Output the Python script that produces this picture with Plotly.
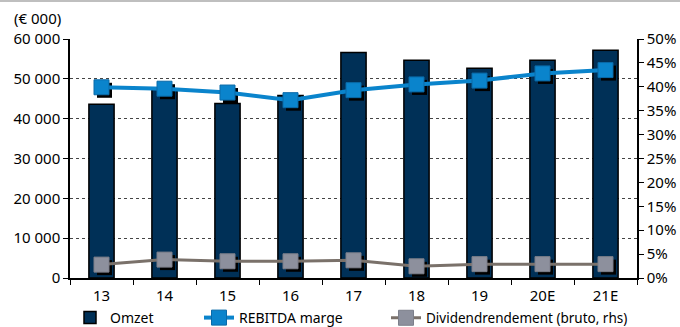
import plotly.graph_objects as go

categories = ["13", "14", "15", "16", "17", "18", "19", "20E", "21E"]
omzet = [43600, 47400, 43800, 45800, 56600, 54650, 52640, 54650, 57200]
rebitda_marge = [39.9, 39.6, 38.8, 37.2, 39.3, 40.5, 41.3, 42.8, 43.5]
dividend = [2.8, 3.85, 3.5, 3.5, 3.7, 2.45, 2.9, 2.9, 2.9]

W, H = 680, 327
L, R, T, B = 70, 43, 39, 49
pw, ph = W - L - R, H - T - B
n = len(categories)
px_per_cat = pw / n
sx, sy = 3, 3  # shadow offset in px
dx = sx / px_per_cat
dy_pct = sy / ph * 50

NAVY = "#003057"
BLUE = "#0A84CC"
GREY_M = "#8D909D"
GREY_L = "#7A716A"
FONT = "Noto Sans"

fig = go.Figure()
fig.add_trace(go.Bar(x=categories, y=omzet, name="Omzet", marker=dict(color=NAVY, line=dict(color="black", width=1.5)),
                     xaxis="x", yaxis="y", legend="legend"))
# marker shadows
fig.add_trace(go.Scatter(x=categories, y=rebitda_marge, mode="markers", showlegend=False, hoverinfo="skip",
                         marker=dict(symbol="square", size=15, color="black"), xaxis="x2", yaxis="y2"))
fig.add_trace(go.Scatter(x=categories, y=dividend, mode="markers", showlegend=False, hoverinfo="skip",
                         marker=dict(symbol="square", size=15, color="black"), xaxis="x2", yaxis="y2"))
fig.add_trace(go.Scatter(x=categories, y=rebitda_marge, mode="lines+markers", name="REBITDA marge",
                         line=dict(color=BLUE, width=4),
                         marker=dict(symbol="square", size=15, color=BLUE, line=dict(color="#0a6aa8", width=1)),
                         xaxis="x3", yaxis="y3", legend="legend2"))
fig.add_trace(go.Scatter(x=categories, y=dividend, mode="lines+markers", name="Dividendrendement (bruto, rhs)",
                         line=dict(color=GREY_L, width=3),
                         marker=dict(symbol="square", size=15, color=GREY_M, line=dict(color="#7c7f8a", width=1)),
                         xaxis="x3", yaxis="y3", legend="legend3"))

tickfont = dict(family=FONT, size=15, color="black")
leg_y = -(318 - (T + ph)) / ph


def leg(xpx, size=14):
    return dict(orientation="h", x=(xpx - L) / pw, xanchor="left", y=leg_y, yanchor="middle",
                font=dict(family=FONT, size=size, color="black"), itemwidth=30, tracegroupgap=0,
                bgcolor="rgba(0,0,0,0)")


fig.update_layout(
    width=W, height=H, margin=dict(l=L, r=R, t=T, b=B, autoexpand=False),
    paper_bgcolor="white", plot_bgcolor="white",
    separators=", ",
    bargap=0.6,
    showlegend=True,
    legend=leg(70), legend2=leg(199), legend3=leg(386, 13.5),
    xaxis=dict(type="category", range=[-0.5, n - 0.5], showline=True, linecolor="black", linewidth=1.5,
               ticks="outside", tickson="boundaries", ticklen=5, tickcolor="black", tickfont=tickfont,
               ticklabelstandoff=3, showgrid=False, zeroline=False),
    yaxis=dict(range=[0, 60000], dtick=10000, tickformat=",d", showline=True, linecolor="black", linewidth=1.5,
               ticks="outside", ticklen=5, tickcolor="black", tickfont=tickfont,
               showgrid=True, gridcolor="#444444", griddash="dot", gridwidth=1, zeroline=False),
    xaxis2=dict(type="category", overlaying="x", range=[-0.5 - dx, n - 0.5 - dx], visible=False),
    yaxis2=dict(overlaying="y", range=[dy_pct, 50 + dy_pct], visible=False),
    xaxis3=dict(type="category", overlaying="x", range=[-0.5, n - 0.5], visible=False),
    yaxis3=dict(overlaying="y", side="right", range=[0, 50], dtick=5, ticksuffix="%", showline=True,
                linecolor="black", linewidth=1.5, ticks="outside", ticklen=5, tickcolor="black",
                tickfont=tickfont, showgrid=False, zeroline=False),
    annotations=[dict(text="(€ 000)", xref="paper", yref="paper", x=-58 / pw, y=1 + 9 / ph,
                      xanchor="left", yanchor="bottom", showarrow=False,
                      font=dict(family=FONT, size=15, color="black"))],
    shapes=[dict(type="line", xref="paper", yref="paper", x0=-L / pw, x1=1 + R / pw,
                 y0=1 + (T - 1) / ph, y1=1 + (T - 1) / ph, line=dict(color="#BFBFBF", width=2))],
)

fig.write_html("out.html")
